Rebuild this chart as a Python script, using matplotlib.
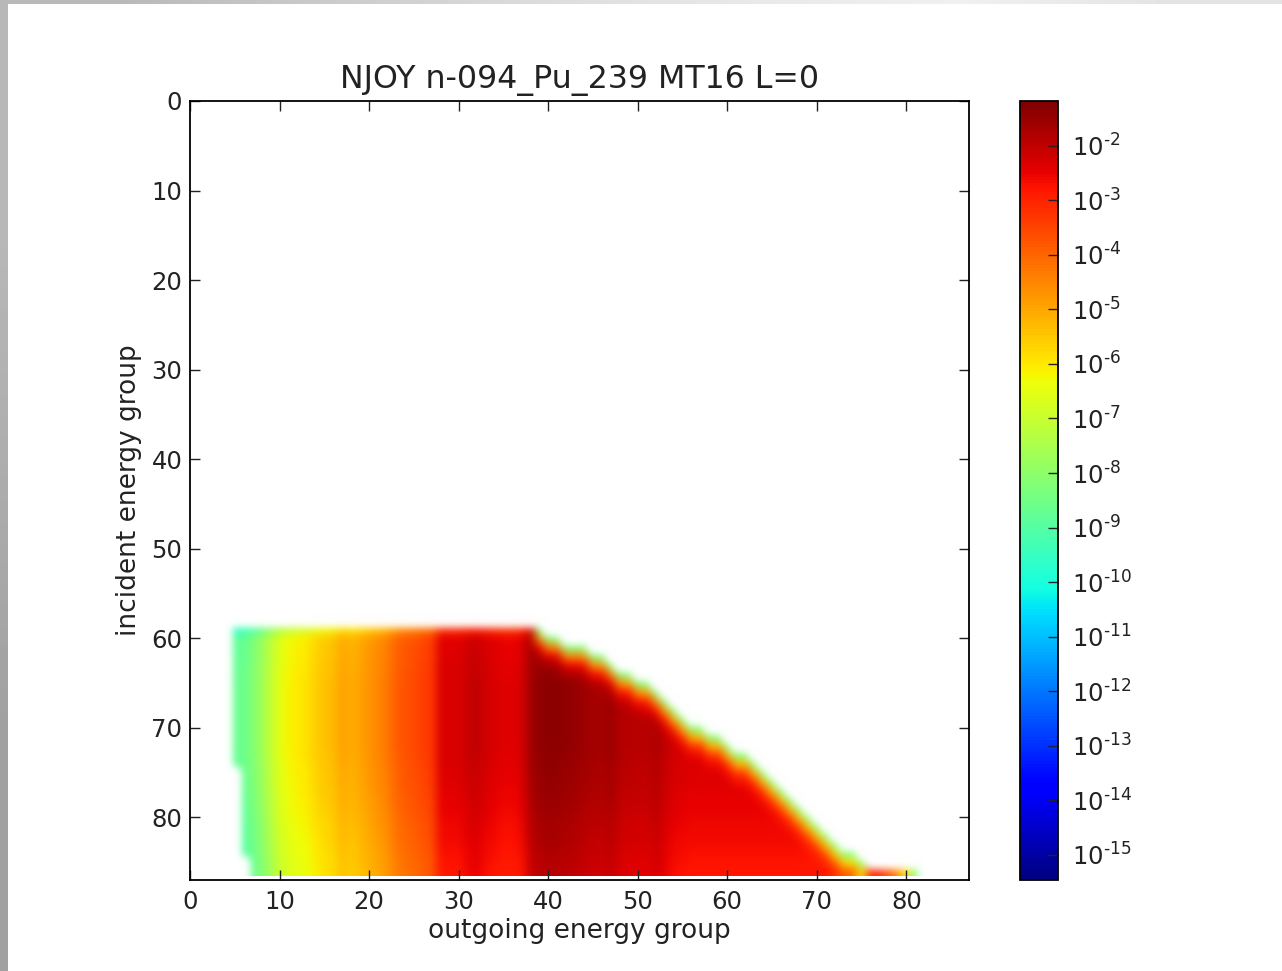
import matplotlib
matplotlib.use("Agg")
import matplotlib.pyplot as plt
from matplotlib.colors import LogNorm
from matplotlib.ticker import FuncFormatter, NullLocator
import numpy as np

# log10 of the group-to-group value per outgoing group, read around row 70
outgoing_groups = list(range(5, 76))
column_log = [
    -8.7, -8.6, -8.2, -7.7, -7.1, -6.5, -6.2, -6.0, -5.9, -5.6,  # 5-14
    -5.4, -5.3, -4.9, -5.1, -4.9, -4.7, -4.5, -4.3, -3.9, -3.7,  # 15-24
    -3.6, -3.4, -3.3, -2.3, -2.3, -2.3, -2.1, -2.0, -2.2, -2.3,  # 25-34
    -2.4, -2.4, -2.3, -1.6, -1.45, -1.35, -1.4, -1.45, -1.5, -1.6,  # 35-44
    -1.65, -1.7, -1.55, -1.85, -1.9, -1.9, -1.95, -1.75, -2.0, -2.2,  # 45-54
    -2.25, -2.3, -2.3, -2.3, -2.3, -2.3, -2.3, -2.3, -2.3, -2.3,  # 55-64
    -2.3, -2.3, -2.3, -2.3, -2.35, -2.35, -2.35, -2.4, -2.4, -2.5,  # 65-74
    -2.5,
]

# first populated row of each outgoing group
first_row = [59] * 35 + [
    60, 60, 61, 61, 61, 62, 62, 63, 64, 64,  # 40-49
    65, 65, 66, 67, 68, 69, 70, 70, 71, 71,  # 50-59
    72, 73, 73, 74, 75, 76, 77, 78, 79, 80,  # 60-69
    81, 82, 83, 84, 84, 85,  # 70-75
]

# change with incident group, rows 60-86
incident_rows = list(range(60, 87))
row_offset = [
    -0.15, -0.1, -0.08, -0.05, -0.03, 0, 0, 0, 0, 0, 0, 0, 0,
    -0.02, -0.05, -0.08, -0.1, -0.13, -0.17, -0.2, -0.25, -0.3, -0.33,
    -0.38, -0.42, -0.46, -0.5,
]

# left limit of the populated area: (last row, first group)
left_limits = [(74, 5), (84, 6), (86, 7)]

# falloff on the stepped edge, top cell of a column and the three below it
edge_log = -8.3
edge_drop = [-3.0, -1.0, -0.3]
flat_top_drop = -0.9

# row 86 runs on past the others
tail_groups = [76, 77, 78, 79, 80, 81]
tail_log = [-2.9, -3.2, -3.8, -4.6, -6.0, -8.3]

x_ticks = [0, 10, 20, 30, 40, 50, 60, 70, 80]
y_ticks = [0, 10, 20, 30, 40, 50, 60, 70, 80]
cbar_exponents = list(range(-15, -1))
N_GROUPS = 87
V_MIN = 10 ** -15.46
V_MAX = 10 ** -1.18


def buildMatrix():
    log_m = np.full((N_GROUPS, N_GROUPS), np.nan)
    for g, value, start in zip(outgoing_groups, column_log, first_row):
        for r in range(start, N_GROUPS):
            log_m[r, g] = value + row_offset[incident_rows.index(r)] if r >= 60 else value
        if start == 59 and g < 39:
            log_m[59, g] = value + flat_top_drop
        else:
            log_m[start, g] = edge_log
            for depth, drop in enumerate(edge_drop):
                if start + depth + 1 < N_GROUPS:
                    log_m[start + depth + 1, g] += drop
    for g, value in zip(tail_groups, tail_log):
        log_m[86, g] = value
    # cut the stepped left side
    first = 59
    for last, g in left_limits:
        log_m[first:last + 1, :g] = np.nan
        first = last + 1
    return 10.0 ** log_m


def cbarLabel(value, pos):
    # the old hyphen style exponent, not a long minus
    exponent = int(round(np.log10(value)))
    return r"$\mathdefault{10^{\text{-}%d}}$" % abs(exponent)


def main():
    fig = plt.figure(figsize=(12.82, 9.71), dpi=100, facecolor="white")
    w, h = 1282.0, 971.0

    # grey slide border
    top = fig.add_axes([0, 1 - 4 / h, 1, 4 / h])
    top.imshow([[0.72, 0.79, 0.86, 0.91, 0.94, 0.89]], cmap="gray", vmin=0, vmax=1, aspect="auto", interpolation="bilinear")
    top.axis("off")
    left = fig.add_axes([0, 0, 8 / w, 1])
    left.imshow([[0.72], [0.63]], cmap="gray", vmin=0, vmax=1, aspect="auto", interpolation="bilinear")
    left.axis("off")

    ax = fig.add_axes([190 / w, 1 - 880 / h, 779 / w, 779 / h])
    cmap = plt.get_cmap("jet").copy()
    cmap.set_bad((1, 1, 1, 0))
    matrix = np.ma.masked_invalid(buildMatrix())
    im = ax.imshow(matrix, cmap=cmap, norm=LogNorm(vmin=V_MIN, vmax=V_MAX), interpolation="bicubic",
                   interpolation_stage="rgba", aspect="auto")
    ax.set_xlim(0, 87)
    ax.set_ylim(87, 0)
    ax.set_xticks(x_ticks)
    ax.set_yticks(y_ticks)
    ax.tick_params(direction="in", top=True, right=True, length=7, width=1, labelsize=17.5, pad=7, colors="#222222")
    ax.tick_params(axis="y", pad=5.5)
    for spine in ax.spines.values():
        spine.set_linewidth(1.3)
    ax.set_title("NJOY n-094_Pu_239 MT16 L=0", fontsize=22.8, pad=9, color="#222222")
    ax.set_xlabel("outgoing energy group", fontsize=19, labelpad=3, color="#222222")
    ax.set_ylabel("incident energy group", fontsize=19, labelpad=6.5, color="#222222")

    cax = fig.add_axes([1020 / w, 1 - 880 / h, 38 / w, 779 / h])
    cb = fig.colorbar(im, cax=cax, ticks=[10.0 ** e for e in cbar_exponents], format=FuncFormatter(cbarLabel))
    cb.ax.yaxis.set_minor_locator(NullLocator())
    cb.ax.tick_params(direction="in", length=7, width=1, labelsize=17.5, pad=10, colors="#222222")
    cb.outline.set_linewidth(1.3)

    fig.savefig("out.png", dpi=100)


if __name__ == "__main__":
    main()
